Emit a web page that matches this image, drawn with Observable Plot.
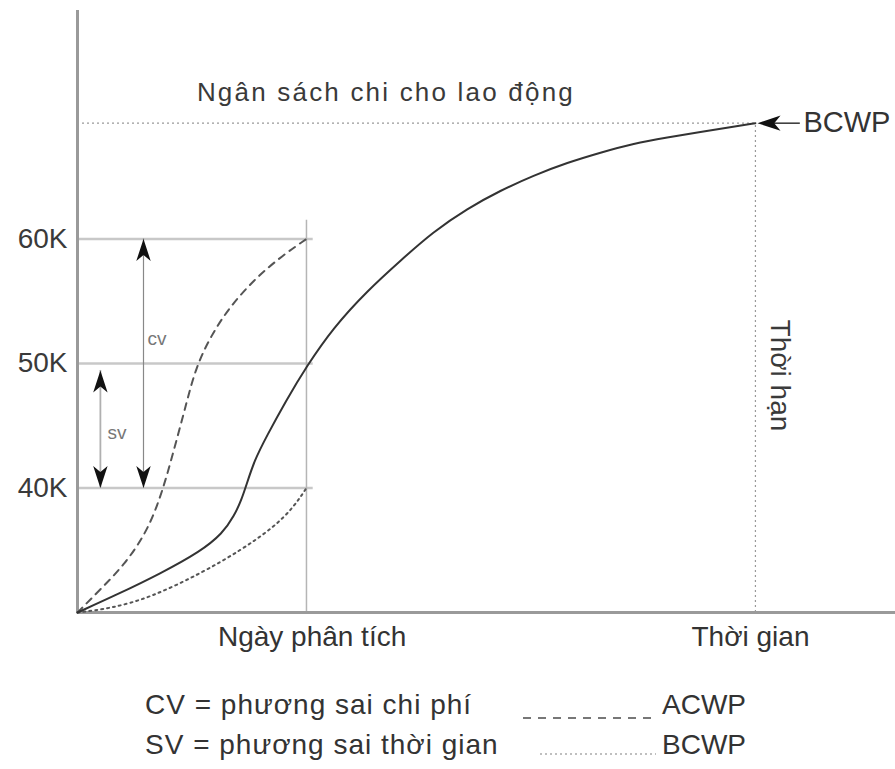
<!DOCTYPE html>
<html>
<head>
<meta charset="utf-8">
<script src="https://cdn.jsdelivr.net/npm/d3@7"></script>
<script src="https://cdn.jsdelivr.net/npm/@observablehq/plot@0.6"></script>
<style>
  body { margin: 0; background: #fff; font-family: "Liberation Sans", Arial, sans-serif; }
  #chart { width: 895px; }
  #legend { position: relative; width: 895px; height: 109px; color: #333; font-size: 28px; }
  #legend .t { position: absolute; line-height: 28px; white-space: nowrap; letter-spacing: 1px; }
  #legend svg { position: absolute; overflow: visible; }
</style>
</head>
<body>
<div id="chart"></div>
<div id="legend"></div>
<script>
// ---- data (time in weeks, cost in thousands) ----
const plannedX = [0, 1.78, 3.70, 5.48, 6.46, 6.99, 7.31, 7.53, 7.88, 8.42, 9.27, 10.2, 11.40, 12.92, 14.39, 15.86, 17.37, 18.84, 20.31, 21.83, 23.30, 24.77, 26.28, 27.75, 29.22, 30.2];
const plannedY = [30, 31.45, 33.13, 34.90, 36.34, 37.79, 39.08, 40.28, 42.21, 44.14, 46.95, 49.76, 52.89, 55.86, 58.27, 60.60, 62.45, 63.89, 65.10, 66.14, 66.94, 67.67, 68.15, 68.59, 69.03, 69.3];
const acwpX = [0, 1.02, 2.14, 3.03, 3.56, 3.96, 4.41, 4.86, 5.26, 5.92, 6.82, 7.97, 9.13, 10.2];
const acwpY = [30, 31.85, 33.94, 36.34, 38.59, 40.84, 43.81, 46.87, 49.60, 52.17, 54.66, 56.91, 58.67, 60.0];
const bcwpX = [0, 1.47, 3.25, 5.48, 7.26, 8.73, 9.62, 10.2];
const bcwpY = [30, 30.32, 31.20, 33.13, 34.98, 36.83, 38.43, 40.0];
const gridValues = [40, 50, 60];
const tickLabels = ["40K", "50K", "60K"];
const budget = 69.3;
const analysisDay = 10.2;
const deadline = 30.2;
const cvRange = [40, 60];
const svRange = [40, 49.44];
const titleText = "Ngân sách chi cho lao động";
const analysisLabel = "Ngày phân tích";
const timeLabel = "Thời gian";
const deadlineLabel = "Thời hạn";
const bcwpArrowLabel = "BCWP";
const cvLabel = "cv", svLabel = "sv";
const legendRows = [
  {text: "CV = phương sai chi phí", series: "ACWP"},
  {text: "SV = phương sai thời gian", series: "BCWP"}
];

// ---- tables ----
const toPts = (xs, ys) => xs.map((x, i) => ({x, y: ys[i]}));
const planned = toPts(plannedX, plannedY);
const acwp = toPts(acwpX, acwpY);
const bcwp = toPts(bcwpX, bcwpY);

// stealth arrowhead symbols, tip at the anchor point
function arrowSymbol(dir) {
  return {
    draw(ctx, size) {
      const k = Math.sqrt(size / Math.PI);
      const pts = [[0, 0], [0.72 * k, 2.2 * k], [0, 1.6 * k], [-0.72 * k, 2.2 * k]];
      const tr = ([a, b]) => dir === "up" ? [a, b] : dir === "down" ? [a, -b] : [b, a];
      pts.map(tr).forEach(([a, b], i) => i ? ctx.lineTo(a, b) : ctx.moveTo(a, b));
      ctx.closePath();
    }
  };
}

const cvX = 2.94, svX = 1.02;
const gridEnd = 10.5;
const analysisTop = 61.5;
const arrowTail = 32.2, arrowTip = 30.29;

const chart = Plot.plot({
  width: 895,
  height: 660,
  marginLeft: 77,
  marginRight: 0,
  marginTop: 10,
  marginBottom: 48,
  x: {domain: [0, 36.44], axis: null},
  y: {domain: [30, 78.35], axis: null},
  style: {fontFamily: "Liberation Sans, Arial, sans-serif", color: "#333", background: "white", overflow: "visible"},
  marks: [
    Plot.ruleY(gridValues, {x1: 0, x2: gridEnd, stroke: "#c8c8c8", strokeWidth: 2.5}),
    Plot.ruleX([analysisDay], {y1: 30, y2: analysisTop, stroke: "#b5b5b5", strokeWidth: 1.5}),
    Plot.ruleY([budget], {x1: 0, x2: deadline, stroke: "#999", strokeWidth: 1.2, strokeDasharray: "2,3"}),
    Plot.ruleX([deadline], {y1: 30, y2: budget, stroke: "#999", strokeWidth: 1.2, strokeDasharray: "2,3"}),
    Plot.text(gridValues, {x: 0, y: d => d, text: (d, i) => tickLabels[i], textAnchor: "end", dx: -10, fontSize: 28, fill: "#3a3a3a"}),
    Plot.ruleX([0], {stroke: "#9a9a9a", strokeWidth: 3}),
    Plot.ruleY([30], {stroke: "#9a9a9a", strokeWidth: 3}),
    // CV and SV arrows
    Plot.ruleX([cvX], {y1: cvRange[0], y2: cvRange[1], stroke: "#888", strokeWidth: 1.2}),
    Plot.ruleX([svX], {y1: svRange[0], y2: svRange[1], stroke: "#b0b0b0", strokeWidth: 1.8}),
    Plot.dot([{x: cvX, y: cvRange[1]}, {x: svX, y: svRange[1]}], {x: "x", y: "y", r: 10, symbol: arrowSymbol("up"), fill: "#111", stroke: "none"}),
    Plot.dot([{x: cvX, y: cvRange[0]}, {x: svX, y: svRange[0]}], {x: "x", y: "y", r: 10, symbol: arrowSymbol("down"), fill: "#111", stroke: "none"}),
    Plot.text([cvLabel], {x: cvX + 0.18, y: 52.0, text: d => d, textAnchor: "start", fontSize: 19, fill: "#777"}),
    Plot.text([svLabel], {x: svX + 0.32, y: 44.46, text: d => d, textAnchor: "start", fontSize: 19, fill: "#777"}),
    // curves
    Plot.line(bcwp, {x: "x", y: "y", curve: "basis", stroke: "#555", strokeWidth: 2, strokeDasharray: "2,4"}),
    Plot.line(acwp, {x: "x", y: "y", curve: "basis", stroke: "#555", strokeWidth: 2, strokeDasharray: "7,6"}),
    Plot.line(planned, {x: "x", y: "y", curve: "basis", stroke: "#333", strokeWidth: 2}),
    // BCWP arrow
    Plot.ruleY([budget], {x1: arrowTip + 0.5, x2: arrowTail, stroke: "#333", strokeWidth: 1.5}),
    Plot.dot([{x: arrowTip, y: budget}], {x: "x", y: "y", r: 10.5, symbol: arrowSymbol("left"), fill: "#111", stroke: "none"}),
    Plot.text([bcwpArrowLabel], {x: arrowTail + 0.14, y: budget, text: d => d, textAnchor: "start", fontSize: 29, fill: "#333"}),
    // labels
    Plot.text([titleText], {x: 13.74, y: 71.77, text: d => d, fontSize: 26, fill: "#3a3a3a"}),
    Plot.text([analysisLabel], {x: 10.45, y: 30, dy: 25, text: d => d, fontSize: 28, fill: "#333"}),
    Plot.text([timeLabel], {x: 29.98, y: 30, dy: 25, text: d => d, fontSize: 28, fill: "#333"}),
    Plot.text([deadlineLabel], {x: 31.28, y: 49.04, text: d => d, rotate: 90, fontSize: 28, fill: "#3a3a3a"})
  ]
});
d3.select(chart).selectAll("text").filter(function() { return this.textContent === titleText; })
  .style("letter-spacing", "2.2px");
document.getElementById("chart").appendChild(chart);

// ---- legend ----
const legend = d3.select("#legend");
const rowTops = [31, 71];
legendRows.forEach((r, i) => {
  legend.append("div").attr("class", "t").style("left", "145px").style("top", rowTops[i] + "px").text(r.text);
  legend.append("div").attr("class", "t").style("left", "662px").style("top", rowTops[i] + "px").style("letter-spacing", "0px").text(r.series);
});
const sw1 = legend.append("svg").style("left", "0px").style("top", "0px").attr("width", 895).attr("height", 109);
sw1.append("line").attr("x1", 523).attr("x2", 656).attr("y1", 58).attr("y2", 58)
  .attr("stroke", "#777").attr("stroke-width", 2).attr("stroke-dasharray", "8,7");
sw1.append("line").attr("x1", 540).attr("x2", 656).attr("y1", 94).attr("y2", 94)
  .attr("stroke", "#aaa").attr("stroke-width", 1.5).attr("stroke-dasharray", "2,3");
</script>
</body>
</html>
